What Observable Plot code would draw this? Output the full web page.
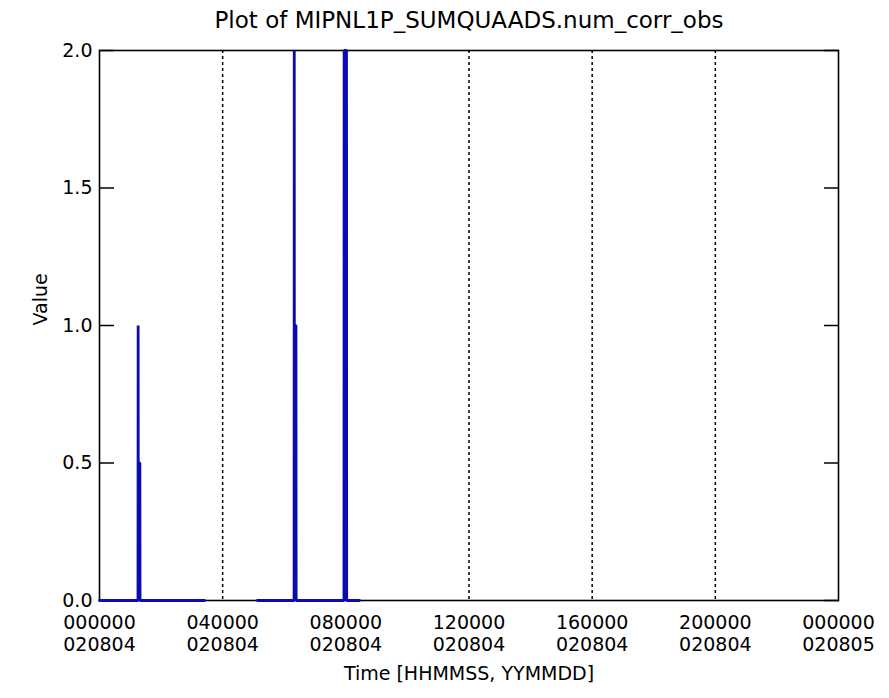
<!DOCTYPE html>
<html>
<head>
<meta charset="utf-8">
<script src="https://cdn.jsdelivr.net/npm/d3@7"></script>
<script src="https://cdn.jsdelivr.net/npm/@observablehq/plot@0.6"></script>
<style>
  html, body { margin: 0; padding: 0; background: #fff; }
  svg { display: block; }
</style>
</head>
<body>
<div id="chart"></div>
<script>
const title = "Plot of MIPNL1P_SUMQUAADS.num_corr_obs";
const xTitle = "Time [HHMMSS, YYMMDD]";
const yTitle = "Value";

// x tick positions in seconds since 2002-08-04 00:00
const xTicks = [0, 14400, 28800, 43200, 57600, 72000, 86400];
const xTickTime = ["000000", "040000", "080000", "120000", "160000", "200000", "000000"];
const xTickDate = ["020804", "020804", "020804", "020804", "020804", "020804", "020805"];
const gridTimes = [14400, 28800, 43200, 57600, 72000];
const yTicks = [0, 0.5, 1.0, 1.5, 2.0];

// data segment A
const segATime  = [0, 4500, 4520, 4540, 4560, 4720, 4740, 12275];
const segAValue = [0, 0,    1.0,  0,    0.5,  0.5,  0,    0];
// data segment B
const segBTime  = [18470, 22750, 22770, 22790, 22810, 22970, 22990, 28580, 28600, 28880, 28900, 30390];
const segBValue = [0,     0,     2.0,   0,     1.0,   1.0,   0,     0,     2.0,   2.0,   0,     0];

const data = [
  ...segATime.map((t, i) => ({seg: "A", t, v: segAValue[i]})),
  ...segBTime.map((t, i) => ({seg: "B", t, v: segBValue[i]}))
];

const font = "DejaVu Sans";
const blue = "#0b0bb0";

const chart = Plot.plot({
  width: 889,
  height: 698,
  marginLeft: 99,
  marginRight: 51,
  marginTop: 50,
  marginBottom: 98,
  style: {fontFamily: font, background: "#fff", color: "#000"},
  x: {domain: [0, 86400], axis: null},
  y: {domain: [0, 2], axis: null},
  marks: [
    Plot.ruleX(gridTimes, {stroke: "#000", strokeWidth: 1.5, strokeDasharray: "3,3"}),
    Plot.axisY(yTicks, {anchor: "left", tickSize: 0, tickPadding: 7, fontSize: 19, tickFormat: d => d.toFixed(1), label: null}),
    Plot.axisY(yTicks, {anchor: "left", tickSize: -15, strokeWidth: 1.5, tickFormat: () => "", label: null}),
    Plot.axisY(yTicks, {anchor: "right", tickSize: -15, strokeWidth: 1.5, tickFormat: () => "", label: null}),
    Plot.text(xTicks, {x: d => d, text: (d, i) => xTickTime[i] + "\n" + xTickDate[i], frameAnchor: "bottom", lineAnchor: "top", dy: 13, lineHeight: 1.15, fontSize: 19, fill: "#000"}),
    Plot.text([xTitle], {frameAnchor: "bottom", lineAnchor: "top", dy: 66, fontSize: 19, fill: "#000"}),
    Plot.text([yTitle], {frameAnchor: "left", rotate: -90, dx: -59, fontSize: 19, fill: "#000"}),
    Plot.text([title], {frameAnchor: "top", lineAnchor: "middle", dy: -30, fontSize: 23, fill: "#000"}),
    Plot.frame({stroke: "#000", strokeWidth: 1.6}),
    Plot.line(data, {x: "t", y: "v", z: "seg", stroke: blue, strokeWidth: 2.8, strokeLinejoin: "miter", strokeMiterlimit: 1})
  ]
});
document.getElementById("chart").appendChild(chart);
</script>
</body>
</html>
